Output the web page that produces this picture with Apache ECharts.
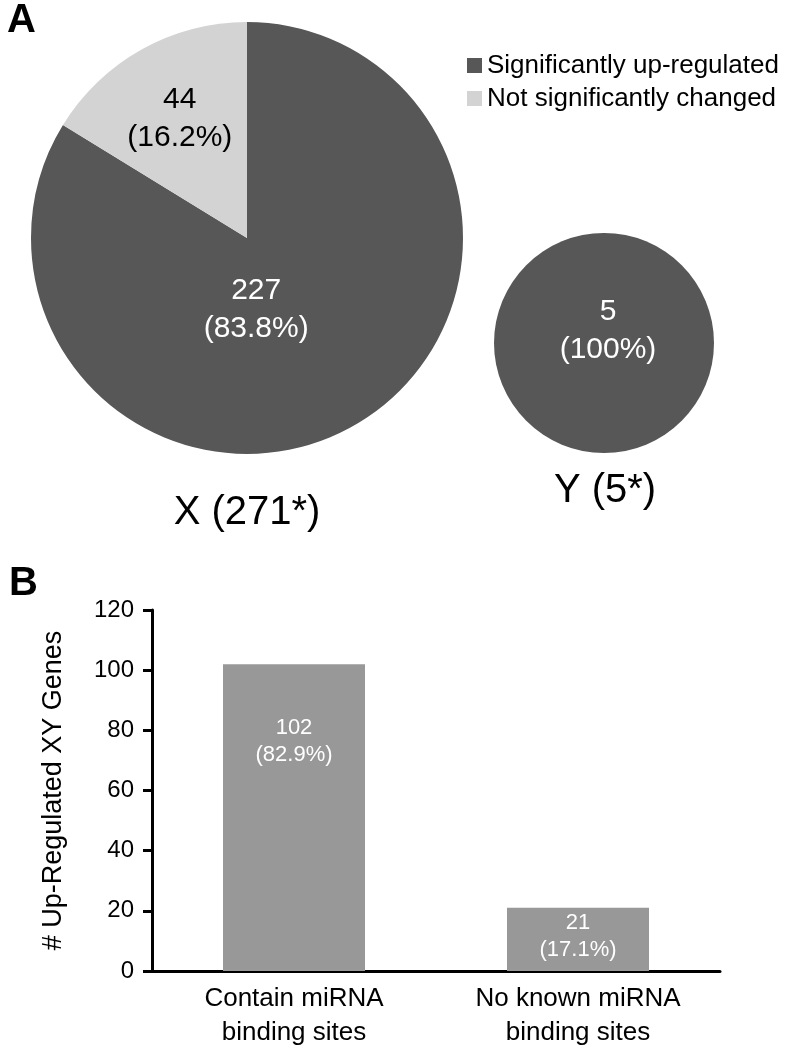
<!DOCTYPE html>
<html>
<head>
<meta charset="utf-8">
<script src="https://cdn.jsdelivr.net/npm/echarts@6/dist/echarts.min.js"></script>
<style>
html,body{margin:0;padding:0;background:#fff;}
#chart{width:792px;height:1052px;}
</style>
</head>
<body>
<div id="chart"></div>
<script>
// ---- data ----
const panelLabels = ['A', 'B'];
const statusNames = ['Significantly up-regulated', 'Not significantly changed'];
const pieXTitle = 'X (271*)';
const pieYTitle = 'Y (5*)';
const pieXValues = [227, 44];
const pieYValues = [5];
const barCategories = ['Contain miRNA\nbinding sites', 'No known miRNA\nbinding sites'];
const barValues = [102, 21];
const yAxisName = '# Up-Regulated XY Genes';
const yMin = 0, yMax = 120, yInterval = 20;

// ---- styling ----
const FONT = 'Liberation Sans, Arial, Helvetica, sans-serif';
const statusColors = ['#575757', '#d3d3d3'];
const statusLabelColors = ['#ffffff', '#000000'];
const barColor = '#989898';
const pieXLabelShift = [[-45, -25], [-13, -22]];
const pieYLabelShift = [[4, -12]];
const barLabelDistance = [50, 2];

const barTotal = barValues.reduce((a, b) => a + b, 0);

function pieData(values) {
  return values.map((v, i) => ({
    name: statusNames[i],
    value: v,
    itemStyle: { color: statusColors[i] },
    label: { color: statusLabelColors[i] }
  }));
}

const chart = echarts.init(document.getElementById('chart'), null, { renderer: 'canvas' });

const option = {
  animation: false,
  textStyle: { fontFamily: FONT },
  title: [
    { text: panelLabels[0], left: 7, top: 1, padding: 0,
      textStyle: { fontFamily: FONT, fontSize: 40, fontWeight: 'bold', color: '#000' } },
    { text: panelLabels[1], left: 9, top: 564, padding: 0,
      textStyle: { fontFamily: FONT, fontSize: 40, fontWeight: 'bold', color: '#000' } },
    { text: pieXTitle, left: 247, textAlign: 'center', top: 493, padding: 0,
      textStyle: { fontFamily: FONT, fontSize: 40, fontWeight: 'normal', color: '#000' } },
    { text: pieYTitle, left: 605, textAlign: 'center', top: 471, padding: 0,
      textStyle: { fontFamily: FONT, fontSize: 40, fontWeight: 'normal', color: '#000' } }
  ],
  legend: {
    orient: 'vertical',
    left: 467,
    top: 49,
    padding: 0,
    itemGap: 0,
    itemWidth: 15,
    itemHeight: 15,
    icon: 'rect',
    data: statusNames,
    textStyle: { fontFamily: FONT, fontSize: 26, color: '#000', lineHeight: 33 }
  },
  grid: { left: 152, right: 72, top: 610, bottom: 81, containLabel: false },
  xAxis: {
    type: 'category',
    data: barCategories,
    axisLine: { lineStyle: { color: '#000', width: 3 } },
    axisTick: { show: false },
    axisLabel: { fontFamily: FONT, fontSize: 26, color: '#000', lineHeight: 34, margin: 11 },
    splitLine: { show: false }
  },
  yAxis: {
    type: 'value',
    min: yMin, max: yMax, interval: yInterval,
    name: yAxisName,
    nameLocation: 'middle',
    nameGap: 85,
    nameRotate: 90,
    nameTextStyle: { fontFamily: FONT, fontSize: 27, color: '#000' },
    axisLine: { show: true, lineStyle: { color: '#000', width: 3 } },
    axisTick: { show: true, length: 9, lineStyle: { color: '#000', width: 3 } },
    axisLabel: { fontFamily: FONT, fontSize: 24, color: '#000', margin: 18 },
    splitLine: { show: false }
  },
  series: [
    {
      type: 'pie',
      name: pieXTitle,
      center: [247, 238],
      radius: 216,
      startAngle: 90,
      clockwise: true,
      percentPrecision: 1,
      avoidLabelOverlap: false,
      itemStyle: { borderWidth: 0 },
      emphasis: { disabled: true },
      label: {
        show: true, position: 'inside', fontFamily: FONT, fontSize: 30, lineHeight: 38,
        formatter: p => p.value + '\n(' + p.percent + '%)'
      },
      labelLine: { show: false },
      labelLayout: p => ({ dx: pieXLabelShift[p.dataIndex][0], dy: pieXLabelShift[p.dataIndex][1] }),
      data: pieData(pieXValues)
    },
    {
      type: 'pie',
      name: pieYTitle,
      center: [604, 343],
      radius: 110,
      startAngle: 90,
      clockwise: true,
      percentPrecision: 1,
      avoidLabelOverlap: false,
      itemStyle: { borderWidth: 0 },
      emphasis: { disabled: true },
      label: {
        show: true, position: 'center', fontFamily: FONT, fontSize: 30, lineHeight: 38,
        formatter: p => p.value + '\n(' + p.percent + '%)'
      },
      labelLine: { show: false },
      labelLayout: p => ({ dx: pieYLabelShift[p.dataIndex][0], dy: pieYLabelShift[p.dataIndex][1] }),
      data: pieData(pieYValues)
    },
    {
      type: 'bar',
      barWidth: '50%',
      itemStyle: { color: barColor },
      emphasis: { disabled: true },
      label: {
        show: true, position: 'insideTop', color: '#fff', fontFamily: FONT, fontSize: 22, lineHeight: 27,
        formatter: p => p.value + '\n(' + (p.value / barTotal * 100).toFixed(1) + '%)'
      },
      data: barValues.map((v, i) => ({ value: v, label: { distance: barLabelDistance[i] } }))
    }
  ]
};
chart.setOption(option);
</script>
</body>
</html>
